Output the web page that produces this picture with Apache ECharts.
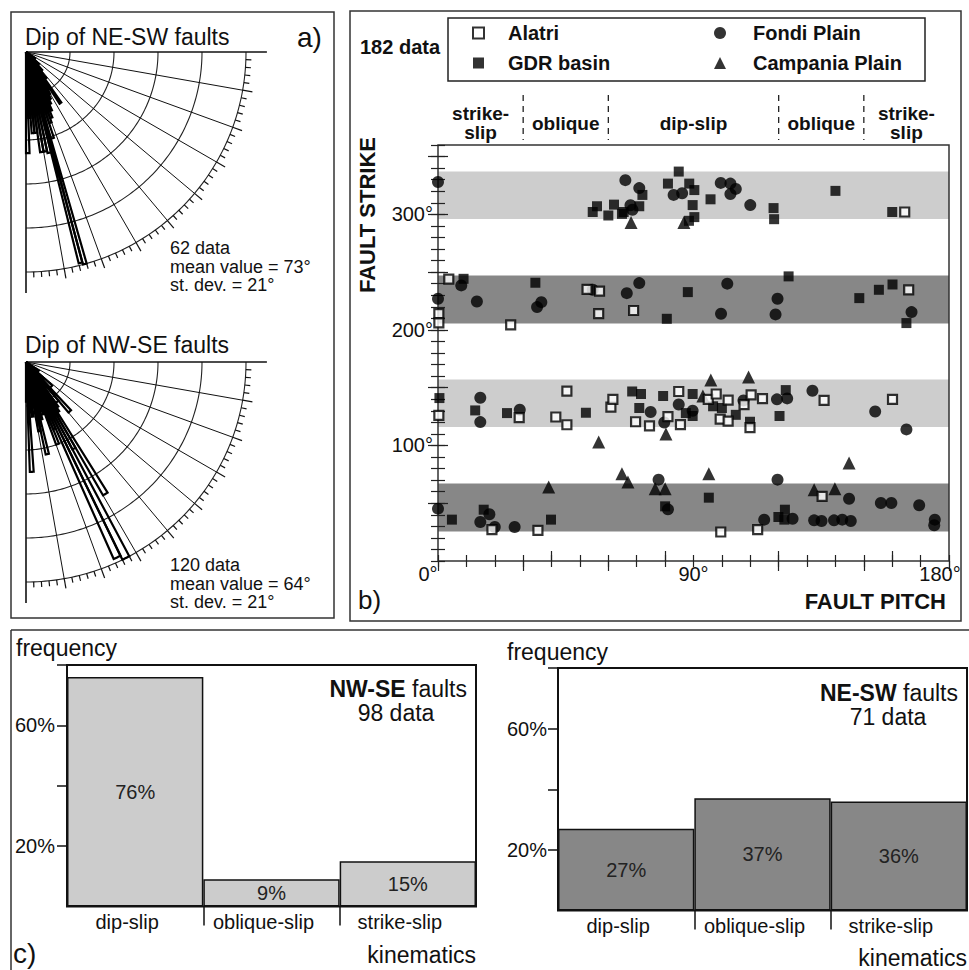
<!DOCTYPE html>
<html>
<head>
<meta charset="utf-8">
<title>Fault dip, strike, pitch and kinematics</title>
<script src="https://cdn.jsdelivr.net/npm/echarts@6/dist/echarts.min.js"></script>
<style>
html,body{margin:0;padding:0;background:#ffffff;}
#chart{width:969px;height:970px;}
</style>
</head>
<body>
<div id="chart"></div>
<script>
// ---------------- DATA ----------------
// panel b: [fault pitch (deg), fault strike (deg)]
const alatri = [
  [164.4,302],
  [3.8,244],[0.3,214],[0.3,206],[25.6,204.4],[52.5,235],[56.9,233.6],[56.6,214],[68.9,216.8],[165.8,234.7],
  [0.3,126],[28.6,124],[41.5,124.6],[45.4,117.9],[45.4,147],[60.9,133.2],[61.6,139.8],[69.6,120.5],[74.5,116.9],
  [81,124.9],[84.8,146.7],[85.4,118.1],[95.2,139.9],[98,144.5],[99.4,122.8],[102.2,139.3],[102.2,121.1],
  [107.8,135.4],[110.3,143.8],[109.9,115.4],[114.3,140.5],[136,139],[160.1,139.9],
  [19,27.1],[35.2,26.5],[99.6,25.1],[112.6,27.1],[135.3,55.9]
];
const gdrBasin = [
  [54.5,302],[56,307],[60,299],[62,308.4],[64.8,300.4],[65.4,302],[70.9,307],[72,316.8],[81,326.6],[84.8,337],
  [88.5,326.6],[90.3,321],[89.7,308],[90.3,297.6],[88.4,294.4],[96,313],[118.2,305.4],[118.4,295.8],[140,320.3],[160,302],
  [9,244.2],[34.3,240.8],[80.6,209.6],[88,232.7],[123.5,246.3],[148.4,227.5],[155.3,234.7],[160.1,239.3],[165,205.9],
  [0.5,141],[13.1,130.3],[24.3,128],[52.1,128.3],[68.4,146.7],[71.5,144.5],[70.9,132.4],[79.3,142.8],[89.7,144.5],
  [89.7,125.5],[87.3,128],[96.9,133.9],[100,132.4],[104.9,126.5],[109.9,120.5],[122.5,147.9],[120.3,125.5],
  [4.9,35.8],[16.1,44.4],[39.8,35.8],[80,47.3],[95.4,54.8],[122.2,44.4],[119.9,38.1],[122,35.8]
];
const fondiPlain = [
  [0,328],[66,329.6],[70.9,322.7],[67.8,307.8],[68.5,304],[83,316.8],[86,318.3],[99.6,327.2],[103,326.6],[104.9,322],[103,317.5],[110,308],
  [8.2,238.5],[0,227],[13.7,224.6],[34.9,219.7],[36.4,224],[54.5,234.7],[66.5,231.8],[70.9,240.5],[101.9,240],[99.7,214],
  [119.6,227],[118.9,213.4],[166.8,215.4],
  [14.9,141.3],[14.9,120.2],[28.8,130.9],[74.9,128.9],[79.7,119.9],[84.8,135.4],[89.7,130],[107.6,139],[119.4,139.9],
  [123,140.7],[131.9,147.3],[154,129.4],[165,113.9],
  [0,45.3],[18.1,40.4],[14.9,33.7],[20,29.4],[27,29.4],[77.7,70.4],[81,44.7],[114.9,35.8],[119.6,70.4],[124.9,36.6],
  [144.8,53.9],[132.5,35.2],[135.1,34.6],[139.5,35.2],[142.4,35.8],[145.4,34.6],[156,50.2],[159.7,50.2],[169.5,48.2],
  [175,35.8],[174.8,30.9]
];
const campaniaPlain = [
  [68,293],[86.6,293],
  [56.6,103],[80.3,110],[93.3,142.8],[96.1,156.6],[109.4,159.2],
  [39,64],[64.8,75.5],[66.9,68.3],[76.5,62.6],[80,62.6],[95.4,75.5],[132.5,61.7],[139.8,62.6],[144.8,84.8]
];
// strike bands [from, to]
const bandsNWSE = [[116,157],[296,337]];
const bandsNESW = [[25.5,67],[205.5,247]];
const pitchRange = [0,180];
const strikeRange = [0,360];
const pitchClassNames = ['strike-\nslip','oblique','dip-slip','oblique','strike-\nslip'];
const pitchClassCenters = [15,45,90,135,165];
const pitchClassBounds = [30,60,120,150];
const pitchTickLabels = [0,90,180];
const strikeTickLabels = [100,200,300];

// panel c
const kinematics = ['dip-slip','oblique-slip','strike-slip'];
const nwseFrequency = [76,9,15];
const neswFrequency = [27,37,36];
const frequencyTicks = [20,40,60,80];
const frequencyTickLabels = [20,60];

// panel a: rose petals [frequency, dip from, dip to]
const neswDipPetals = [
  [4.6,88,90],[3.0,86,88],[3.7,84,86],[3.7,82,84],[4.6,80,82],[4.6,78,80],[4.7,76,78],[9.9,75,76],[10.0,74,75],
  [4.1,72,74],[3.4,70,72],[3.2,68,70],[2.9,66,68],[2.6,64,66],[2.4,62,64],[2.2,60,62],[2.0,58,60],[2.8,55,57],
  [1.5,52,55],[1.1,48,52],[0.8,42,48],[0.5,34,42]
];
const nwseDipPetals = [
  [1.8,88,90],[5.0,86,88],[2.3,84,86],[2.5,82,84],[2.0,80,82],[3.2,78,80],[4.3,76,78],[2.7,74,76],[2.3,72,74],
  [2.5,70,72],[4.0,68,70],[3.3,66,68],[9.8,64,66],[10.0,62,64],[4.5,60,62],[7.0,58,60],[2.7,56,58],[2.5,54,56],
  [2.3,50,54],[3.0,47,50],[1.6,42,47],[0.7,34,42]
];
const roseRings = [2,4,6,8,10];
const roseOuter = 10;
const roseSpokes = [0,10,20,30,40,50,60,70,80,90];
const roseTicks = [2,4,6,8,10,12,14,16,18,20,22,24,26,28,30,32,34,36,38,40,42,44,46,48,50,52,54,56,58,60,62,64,66,68,70,72,74,76,78,80,82,84,86,88];

// ---------------- HELPERS ----------------
const FONT = '"Liberation Sans", Arial, Helvetica, sans-serif';
const INK = '#111';
function range(a, b, s) { const r = []; for (let v = a; v <= b + 1e-9; v += s) r.push(v); return r; }

function txt(x, y, text, size, o) {
  o = o || {};
  const al = o.align || 'left';
  return {
    type: 'text', x: x, y: y, rotation: o.rotation || 0, silent: true, z: 10,
    style: {
      text: text, fontSize: size, fontFamily: FONT, fontWeight: o.weight || 'normal', fill: o.color || INK,
      align: al, textAlign: al, verticalAlign: 'middle', textVerticalAlign: 'middle', rich: o.rich
    }
  };
}

function bandItem(params, api) {
  const lo = api.value(0), hi = api.value(1);
  const p1 = api.coord([pitchRange[0], hi]);
  const p2 = api.coord([pitchRange[1], lo]);
  return { type: 'rect', shape: { x: p1[0], y: p1[1], width: p2[0] - p1[0], height: p2[1] - p1[1] },
           style: { fill: params.seriesName === 'NW-SE band' ? '#cdcdcd' : '#878787' } };
}
function boundItem(params, api) {
  const p = api.coord([api.value(0), api.value(1)]);
  return { type: 'line', shape: { x1: p[0], y1: p[1] - 50, x2: p[0], y2: p[1] - 5 },
           style: { stroke: '#222', lineWidth: 1.3, lineDash: [6, 5] } };
}
function ringItem(params, api) {
  const r = api.value(0);
  const pts = [];
  for (let a = 0; a <= 90; a += 1) pts.push(api.coord([r, a]));
  return { type: 'polyline', shape: { points: pts }, style: { stroke: '#222', lineWidth: 1.1, fill: 'none' } };
}
function spokeItem(params, api) {
  const len = api.value(0), a = api.value(1);
  const isAxis = (a === 0 || a === 90);
  const p0 = api.coord([0, a]);
  const p1 = api.coord([isAxis ? len * 1.095 : len, a]);
  return { type: 'line', shape: { x1: p0[0], y1: p0[1], x2: p1[0], y2: p1[1] },
           style: { stroke: '#111', lineWidth: isAxis ? 1.6 : 1 } };
}
function tickItem(params, api) {
  const r = api.value(0), a = api.value(1);
  const major = a % 10 === 0;
  const p0 = api.coord([r, a]);
  const p1 = api.coord([r + (major ? 0.45 : 0.25), a]);
  return { type: 'line', shape: { x1: p0[0], y1: p0[1], x2: p1[0], y2: p1[1] },
           style: { stroke: '#111', lineWidth: 1.2 } };
}
function petalItem(params, api) {
  const r = api.value(0), a1 = api.value(1), a2 = api.value(2);
  const pts = [api.coord([0, a1])];
  const n = 6;
  for (let i = 0; i <= n; i++) pts.push(api.coord([r, a1 + (a2 - a1) * i / n]));
  return { type: 'polygon', shape: { points: pts },
           style: { fill: 'none', stroke: '#000', lineWidth: 2.2, lineJoin: 'miter' } };
}

function roseSeries(polarIndex, petals) {
  const base = { type: 'custom', coordinateSystem: 'polar', polarIndex: polarIndex, silent: true,
                 animation: false, encode: { radius: 0, angle: 1 } };
  return [
    Object.assign({}, base, { name: 'rings' + polarIndex, renderItem: ringItem, data: roseRings.map(r => [r, 0]), z: 2 }),
    Object.assign({}, base, { name: 'spokes' + polarIndex, renderItem: spokeItem, data: roseSpokes.map(a => [roseOuter, a]), z: 2 }),
    Object.assign({}, base, { name: 'ticks' + polarIndex, renderItem: tickItem, data: roseTicks.map(a => [roseOuter, a]), z: 2 }),
    Object.assign({}, base, { name: 'petals' + polarIndex, renderItem: petalItem, dimensions: ['f', 'from', 'to'],
                              data: petals, z: 3 })
  ];
}

const tickLine = { color: '#222', width: 1.2 };
function scatterXAxis(position, ticks, len, label) {
  return {
    gridIndex: 0, type: 'value', min: pitchRange[0], max: pitchRange[1], position: position, z: 4,
    axisLine: { show: false }, splitLine: { show: false },
    axisTick: { show: true, inside: true, length: len, customValues: ticks, lineStyle: tickLine },
    axisLabel: label || { show: false }
  };
}
function scatterYAxis(position, ticks, len, label) {
  return {
    gridIndex: 0, type: 'value', min: strikeRange[0], max: strikeRange[1], position: position, z: 4,
    axisLine: { show: false }, splitLine: { show: false },
    axisTick: { show: true, inside: true, length: len, customValues: ticks, lineStyle: tickLine },
    axisLabel: label || { show: false }
  };
}

// ---------------- OPTION ----------------
const option = {
  animation: false,
  backgroundColor: '#ffffff',
  textStyle: { fontFamily: FONT },
  grid: [
    { left: 438, top: 145, width: 511, height: 416, show: true, borderColor: '#333', borderWidth: 1.5, z: 4 },
    { left: 67, top: 665, width: 409, height: 241.5, show: true, borderColor: '#111', borderWidth: 2, z: 4 },
    { left: 558, top: 668, width: 409, height: 242.5, show: true, borderColor: '#111', borderWidth: 2, z: 4 }
  ],
  polar: [
    { center: [26, 52], radius: 220 },
    { center: [26, 362], radius: 220 }
  ],
  angleAxis: [0, 1].map(i => ({
    polarIndex: i, type: 'value', min: 0, max: 360, startAngle: 0, clockwise: true,
    axisLine: { show: false }, axisTick: { show: false }, axisLabel: { show: false }, splitLine: { show: false }
  })),
  radiusAxis: [0, 1].map(i => ({
    polarIndex: i, type: 'value', min: 0, max: roseOuter,
    axisLine: { show: false }, axisTick: { show: false }, axisLabel: { show: false }, splitLine: { show: false }
  })),
  legend: [
    { data: [{ name: 'Alatri', icon: 'rect' }, { name: 'GDR basin', icon: 'rect' }],
      orient: 'vertical', left: 472, top: 23, padding: 0, itemGap: 10, itemWidth: 11, itemHeight: 11,
      selectedMode: false,
      textStyle: { fontSize: 20, fontWeight: 'bold', fontFamily: FONT, color: INK, padding: [0, 0, 0, 19] } },
    { data: [{ name: 'Fondi Plain', icon: 'circle' }, { name: 'Campania Plain', icon: 'triangle' }],
      orient: 'vertical', left: 714, top: 23, padding: 0, itemGap: 10, itemWidth: 12, itemHeight: 12,
      selectedMode: false,
      textStyle: { fontSize: 20, fontWeight: 'bold', fontFamily: FONT, color: INK, padding: [0, 0, 0, 22] } }
  ],
  xAxis: [
    scatterXAxis('bottom', range(0, 180, 10), 6, {
      show: true, customValues: pitchTickLabels, margin: 3, fontSize: 20, fontFamily: FONT, color: INK,
      formatter: v => v === 0 ? '{l|0°}' : (v === 180 ? '{r|180°}' : v + '°'),
      rich: { l: { padding: [0, 20, 0, 0], fontSize: 20, fontFamily: FONT, color: INK },
              r: { padding: [0, 18, 0, 0], fontSize: 20, fontFamily: FONT, color: INK } }
    }),
    scatterXAxis('bottom', [40, 80, 120, 160], 10),
    scatterXAxis('top', range(0, 180, 10), 6),
    scatterXAxis('top', [0].concat(pitchClassBounds, [180]), 10, {
      show: true, customValues: pitchClassCenters, margin: 22, fontSize: 19, fontWeight: 'bold',
      fontFamily: FONT, color: INK, lineHeight: 19, verticalAlign: 'middle', align: 'center',
      formatter: v => pitchClassNames[pitchClassCenters.indexOf(v)]
    }),
    // bar chart NW-SE
    { gridIndex: 1, type: 'category', data: kinematics, position: 'bottom', z: 4,
      axisLine: { show: false }, axisTick: { show: false }, splitLine: { show: false },
      axisLabel: { margin: 5, fontSize: 20, fontFamily: FONT, color: INK, padding: [0, 16, 0, 0] } },
    { gridIndex: 1, type: 'value', min: 0, max: kinematics.length, position: 'bottom', z: 4,
      axisLine: { show: false }, splitLine: { show: false }, axisLabel: { show: false },
      axisTick: { show: true, inside: false, length: 19, customValues: [1, 2], lineStyle: { color: '#111', width: 1.5 } } },
    // bar chart NE-SW
    { gridIndex: 2, type: 'category', data: kinematics, position: 'bottom', z: 4,
      axisLine: { show: false }, axisTick: { show: false }, splitLine: { show: false },
      axisLabel: { margin: 5, fontSize: 20, fontFamily: FONT, color: INK, padding: [0, 16, 0, 0] } },
    { gridIndex: 2, type: 'value', min: 0, max: kinematics.length, position: 'bottom', z: 4,
      axisLine: { show: false }, splitLine: { show: false }, axisLabel: { show: false },
      axisTick: { show: true, inside: false, length: 19, customValues: [1, 2], lineStyle: { color: '#111', width: 1.5 } } }
  ],
  yAxis: [
    scatterYAxis('left', range(0, 360, 10), 7, {
      show: true, customValues: strikeTickLabels, margin: 5, fontSize: 20, fontFamily: FONT, color: INK,
      formatter: '{value}°'
    }),
    scatterYAxis('left', range(50, 350, 50), 10),
    scatterYAxis('right', range(0, 360, 10), 7),
    scatterYAxis('right', range(50, 350, 50), 10),
    { gridIndex: 1, type: 'value', min: 0, max: 80, z: 4,
      axisLine: { show: false }, splitLine: { show: false },
      axisTick: { show: true, inside: false, length: 10, customValues: frequencyTicks, lineStyle: { color: '#111', width: 1.5 } },
      axisLabel: { customValues: frequencyTickLabels, formatter: '{value}%', margin: 12, fontSize: 20, fontFamily: FONT, color: INK } },
    { gridIndex: 2, type: 'value', min: 0, max: 80, z: 4,
      axisLine: { show: false }, splitLine: { show: false },
      axisTick: { show: true, inside: false, length: 10, customValues: frequencyTicks, lineStyle: { color: '#111', width: 1.5 } },
      axisLabel: { customValues: frequencyTickLabels, formatter: '{value}%', margin: 11, fontSize: 20, fontFamily: FONT, color: INK } }
  ],
  series: [
    { name: 'NW-SE band', type: 'custom', xAxisIndex: 0, yAxisIndex: 0, renderItem: bandItem, data: bandsNWSE, z: 1, silent: true },
    { name: 'NE-SW band', type: 'custom', xAxisIndex: 0, yAxisIndex: 0, renderItem: bandItem, data: bandsNESW, z: 1, silent: true },
    { name: 'pitch classes', type: 'custom', xAxisIndex: 0, yAxisIndex: 0, renderItem: boundItem, clip: false,
      data: pitchClassBounds.map(v => [v, strikeRange[1]]), z: 5, silent: true },
    { name: 'GDR basin', type: 'scatter', xAxisIndex: 0, yAxisIndex: 0, data: gdrBasin, symbol: 'rect', symbolSize: 10,
      itemStyle: { color: '#000' }, clip: false, z: 5 },
    { name: 'Fondi Plain', type: 'scatter', xAxisIndex: 0, yAxisIndex: 0, data: fondiPlain, symbol: 'circle', symbolSize: 12,
      itemStyle: { color: '#000' }, clip: false, z: 5 },
    { name: 'Campania Plain', type: 'scatter', xAxisIndex: 0, yAxisIndex: 0, data: campaniaPlain, symbol: 'triangle', symbolSize: 13,
      itemStyle: { color: '#000' }, clip: false, z: 5 },
    { name: 'Alatri', type: 'scatter', xAxisIndex: 0, yAxisIndex: 0, data: alatri, symbol: 'rect', symbolSize: 9,
      itemStyle: { color: '#fff', borderColor: '#000', borderWidth: 2.2 }, clip: false, z: 6 },
    { name: 'NW-SE kinematics', type: 'bar', xAxisIndex: 4, yAxisIndex: 4, data: nwseFrequency, barCategoryGap: '0%',
      itemStyle: { color: '#cccccc', borderColor: '#111', borderWidth: 1.5 }, z: 2, silent: true,
      label: { show: true, position: 'inside', formatter: '{c}%', fontSize: 20, fontFamily: FONT, color: '#222' } },
    { name: 'NE-SW kinematics', type: 'bar', xAxisIndex: 6, yAxisIndex: 5, data: neswFrequency, barCategoryGap: '0%',
      itemStyle: { color: '#878787', borderColor: '#111', borderWidth: 1.5 }, z: 2, silent: true,
      label: { show: true, position: 'inside', formatter: '{c}%', fontSize: 20, fontFamily: FONT, color: '#222' } }
  ].concat(roseSeries(0, neswDipPetals), roseSeries(1, nwseDipPetals)),
  graphic: [
    // panel frames
    { type: 'rect', shape: { x: 11, y: 12, width: 323, height: 606 }, style: { fill: 'none', stroke: '#333', lineWidth: 1.5 }, silent: true },
    { type: 'rect', shape: { x: 350, y: 11, width: 611, height: 610 }, style: { fill: 'none', stroke: '#333', lineWidth: 1.5 }, silent: true },
    { type: 'line', shape: { x1: 11, y1: 630, x2: 969, y2: 630 }, style: { stroke: '#333', lineWidth: 1.5 }, silent: true },
    { type: 'line', shape: { x1: 11, y1: 630, x2: 11, y2: 970 }, style: { stroke: '#333', lineWidth: 1.5 }, silent: true },
    // legend frame
    { type: 'rect', shape: { x: 448, y: 18, width: 477, height: 63 }, style: { fill: 'none', stroke: '#222', lineWidth: 1.5 }, silent: true },
    // panel a texts
    txt(25, 37, 'Dip of NE-SW faults', 23),
    txt(297, 37, 'a)', 28),
    txt(170, 248, '62 data', 18),
    txt(170, 266.5, 'mean value = 73°', 18),
    txt(170, 285, 'st. dev. = 21°', 18),
    txt(25, 345, 'Dip of NW-SE faults', 23),
    txt(170, 565, '120 data', 18),
    txt(170, 583.5, 'mean value = 64°', 18),
    txt(170, 602, 'st. dev. = 21°', 18),
    // panel b texts
    txt(360, 47, '182 data', 20, { weight: 'bold' }),
    txt(367, 215, 'FAULT STRIKE', 22, { weight: 'bold', align: 'center', rotation: Math.PI / 2 }),
    txt(946, 601, 'FAULT PITCH', 22, { weight: 'bold', align: 'right' }),
    txt(358, 600, 'b)', 26),
    // panel c texts
    txt(16, 648, 'frequency', 23),
    txt(507, 652, 'frequency', 23),
    txt(467, 689, '{b|NW-SE}{n| faults}', 23, { align: 'right',
      rich: { b: { fontSize: 23, fontWeight: 'bold', fontFamily: FONT, fill: INK }, n: { fontSize: 23, fontFamily: FONT, fill: INK } } }),
    txt(396, 713, '98 data', 23, { align: 'center' }),
    txt(958, 693, '{b|NE-SW}{n| faults}', 23, { align: 'right',
      rich: { b: { fontSize: 23, fontWeight: 'bold', fontFamily: FONT, fill: INK }, n: { fontSize: 23, fontFamily: FONT, fill: INK } } }),
    txt(888, 717, '71 data', 23, { align: 'center' }),
    txt(476, 955, 'kinematics', 23, { align: 'right' }),
    txt(967, 958, 'kinematics', 23, { align: 'right' }),
    txt(13, 953, 'c)', 28)
  ]
};

const chart = echarts.init(document.getElementById('chart'), null, { renderer: 'svg', width: 969, height: 970 });
chart.setOption(option);
</script>
</body>
</html>
